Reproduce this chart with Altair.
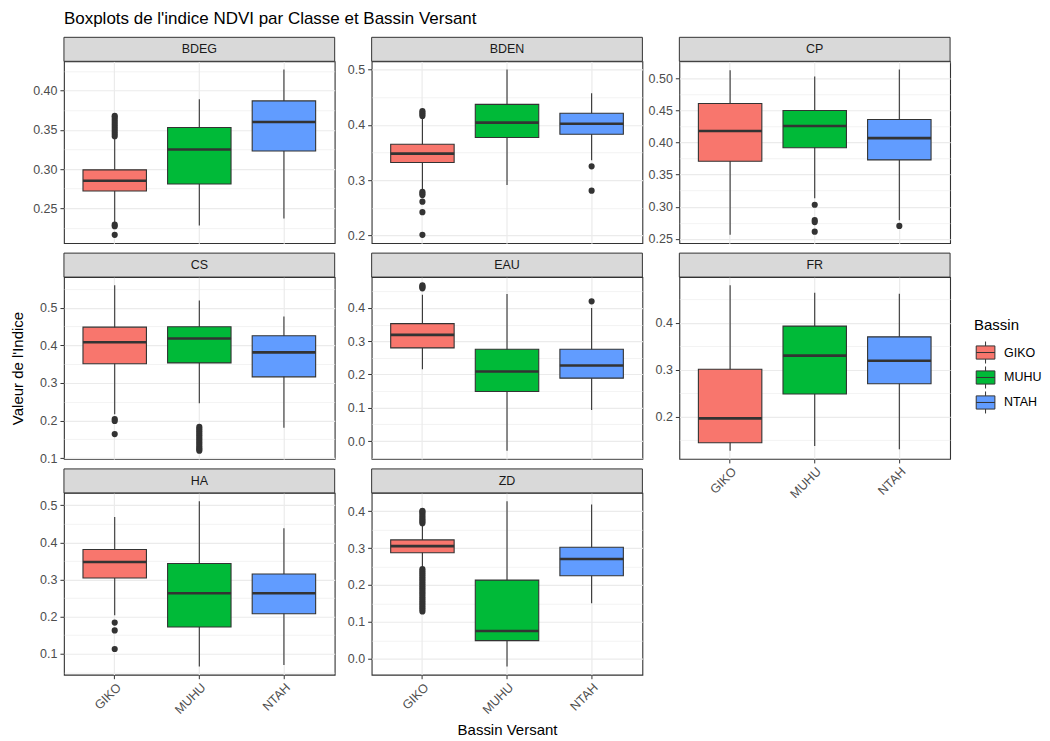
import altair as alt
import pandas as pd

# ---------------- data ----------------
classes = ["BDEG", "BDEN", "CP", "CS", "EAU", "FR", "HA", "ZD"]
bassins = ["GIKO", "MUHU", "NTAH"]
colors = ["#F8766D", "#00BA38", "#619CFF"]

# statistics, ordered class by class, then GIKO, MUHU, NTAH
whisker_low = [0.232, 0.228, 0.237,
               0.283, 0.291, 0.336,
               0.256, 0.313, 0.279,
               0.217, 0.246, 0.181,
               0.216, -0.029, 0.093,
               0.127, 0.137, 0.130,
               0.204, 0.066, 0.070,
               0.246, -0.021, 0.150]
q1 = [0.272, 0.281, 0.323,
      0.332, 0.377, 0.383,
      0.371, 0.392, 0.373,
      0.351, 0.353, 0.316,
      0.280, 0.149, 0.189,
      0.144, 0.248, 0.270,
      0.304, 0.172, 0.208,
      0.287, 0.049, 0.225]
median = [0.285, 0.325, 0.360,
          0.348, 0.404, 0.402,
          0.418, 0.426, 0.407,
          0.408, 0.418, 0.381,
          0.319, 0.209, 0.227,
          0.196, 0.330, 0.319,
          0.347, 0.263, 0.263,
          0.305, 0.075, 0.270]
q3 = [0.299, 0.353, 0.387,
      0.365, 0.437, 0.421,
      0.461, 0.450, 0.436,
      0.448, 0.449, 0.425,
      0.353, 0.276, 0.276,
      0.301, 0.393, 0.370,
      0.381, 0.343, 0.315,
      0.322, 0.213, 0.302]
whisker_high = [0.340, 0.389, 0.427,
                0.414, 0.500, 0.457,
                0.513, 0.503, 0.514,
                0.559, 0.519, 0.476,
                0.440, 0.442, 0.400,
                0.480, 0.464, 0.462,
                0.468, 0.511, 0.438,
                0.364, 0.427, 0.418]

outliers = {
    ("BDEG", "GIKO"): [0.342, 0.345, 0.348, 0.351, 0.354, 0.357, 0.360, 0.363, 0.366, 0.368,
                       0.229, 0.227, 0.216],
    ("BDEN", "GIKO"): [0.416, 0.419, 0.422, 0.425, 0.279, 0.276, 0.273, 0.261, 0.242, 0.201],
    ("BDEN", "NTAH"): [0.325, 0.281],
    ("CP", "MUHU"): [0.303, 0.279, 0.276, 0.261],
    ("CP", "NTAH"): [0.270],
    ("CS", "GIKO"): [0.204, 0.199, 0.164],
    ("CS", "MUHU"): [0.183, 0.178, 0.173, 0.168, 0.163, 0.158, 0.153, 0.148, 0.143, 0.138,
                     0.133, 0.128, 0.124, 0.120],
    ("EAU", "GIKO"): [0.459, 0.462, 0.465, 0.468],
    ("EAU", "NTAH"): [0.420],
    ("HA", "GIKO"): [0.184, 0.163, 0.113],
    ("ZD", "GIKO"): [0.367, 0.371, 0.375, 0.379, 0.384, 0.389, 0.394, 0.398, 0.401,
                     0.243, 0.238, 0.233, 0.228, 0.223, 0.218, 0.213, 0.208, 0.203, 0.198,
                     0.193, 0.188, 0.183, 0.178, 0.173, 0.168, 0.163, 0.158, 0.153, 0.148,
                     0.143, 0.138, 0.133, 0.128],
}

# y tick labels per panel
y_breaks = {
    "BDEG": [0.25, 0.30, 0.35, 0.40],
    "BDEN": [0.2, 0.3, 0.4, 0.5],
    "CP": [0.25, 0.30, 0.35, 0.40, 0.45, 0.50],
    "CS": [0.1, 0.2, 0.3, 0.4, 0.5],
    "EAU": [0.0, 0.1, 0.2, 0.3, 0.4],
    "FR": [0.2, 0.3, 0.4],
    "HA": [0.1, 0.2, 0.3, 0.4, 0.5],
    "ZD": [0.0, 0.1, 0.2, 0.3, 0.4],
}
y_format = {"BDEG": ".2f", "CP": ".2f"}

# ---------------- tables ----------------
stats = pd.DataFrame({
    "Classe": [c for c in classes for _ in bassins],
    "Bassin": [b for _ in classes for b in bassins],
    "lo": whisker_low, "q1": q1, "med": median, "q3": q3, "hi": whisker_high,
})
out_rows = [(c, b, v) for (c, b), vals in outliers.items() for v in vals]
outl = pd.DataFrame(out_rows, columns=["Classe", "Bassin", "value"])

# ---------------- styling ----------------
W, H = 271, 182
STRIP = 24
FONT = "Liberation Sans"
DARK = "#333333"
GRID = "#EBEBEB"
BW = W / 3.2 * 0.75
legend_symbol = ("M-0.85,-0.6H0.85V0.6H-0.85Z M-0.85,0H0.85 "
                 "M0,-0.6V-1 M0,0.6V1")


def panel(cls):
    d = stats[stats.Classe == cls]
    o = outl[outl.Classe == cls]
    vals = list(d.lo) + list(d.hi) + list(o.value)
    lo, hi = min(vals), max(vals)
    r = hi - lo
    dom = [lo - 0.05 * r, hi + 0.05 * r]
    majors = y_breaks[cls]
    step = majors[1] - majors[0]
    minors = [round(m - step / 2, 4) for m in majors] + [round(majors[-1] + step / 2, 4)]
    minors = [m for m in minors if dom[0] <= m <= dom[1]]
    fmt = y_format.get(cls, ".1f")
    test = "indexof([" + ",".join(repr(float(m)) for m in majors) + "], datum.value) >= 0"

    yaxis = alt.Axis(
        values=[float(m) for m in majors] + minors,
        labelExpr=f"{test} ? format(datum.value, '{fmt}') : ''",
        title="Valeur de l'Indice" if cls == "CS" else None,
        titleFont=FONT, titleFontSize=15, titleFontWeight="normal", titleColor="black",
        titlePadding=14,
        grid=True, gridColor=GRID,
        gridWidth={"condition": {"test": test, "value": 1.2}, "value": 0.6},
        tickColor=DARK, tickSize=4,
        tickOpacity={"condition": {"test": test, "value": 1}, "value": 0},
        domain=False, labelColor="#4D4D4D", labelFont=FONT, labelFontSize=12.5,
        labelPadding=3, labelOverlap=False,
    )
    bottom = cls in ("HA", "ZD", "FR")
    if bottom:
        xaxis = alt.Axis(
            labelAngle=-45, labelAlign="right", labelBaseline="top",
            labelColor="#4D4D4D", labelFont=FONT, labelFontSize=12.5, labelPadding=2,
            tickColor=DARK, tickSize=4, domain=False, bandPosition=0.5,
            grid=True, gridColor=GRID, gridWidth=1.2,
            title="Bassin Versant" if cls == "ZD" else None,
            titleFont=FONT, titleFontSize=15, titleFontWeight="normal", titleColor="black",
            titlePadding=6,
        )
    else:
        xaxis = alt.Axis(labels=False, ticks=False, domain=False, title=None,
                         grid=True, gridColor=GRID, gridWidth=1.2, bandPosition=0.5)

    xenc = alt.X("Bassin:N", scale=alt.Scale(domain=bassins, paddingInner=0.25,
                                             paddingOuter=0.225), axis=xaxis)
    yscale = alt.Scale(domain=dom, nice=False, zero=False)

    base = alt.Chart(d)
    whisk = base.mark_rule(color=DARK, strokeWidth=1.1).encode(
        x=xenc, y=alt.Y("lo:Q", scale=yscale, axis=yaxis), y2="hi:Q")
    box = base.mark_bar(stroke=DARK, strokeWidth=1.1).encode(
        x=xenc, y=alt.Y("q1:Q", scale=yscale, axis=yaxis), y2="q3:Q",
        fill=alt.Fill("Bassin:N", scale=alt.Scale(domain=bassins, range=colors),
                      legend=alt.Legend(
                          title="Bassin", orient="none", legendX=911, legendY=257,
                          symbolType=legend_symbol, symbolSize=484,
                          symbolStrokeColor=DARK, symbolStrokeWidth=1,
                          titleFont=FONT, titleFontSize=15, titleFontWeight="normal",
                          titleColor="black", titlePadding=8,
                          labelFont=FONT, labelFontSize=12.5, labelColor="black",
                          rowPadding=-4, labelOffset=7, padding=0)))
    med = base.mark_tick(color=DARK, size=BW, thickness=2.6, opacity=1).encode(
        x=xenc, y=alt.Y("med:Q", scale=yscale, axis=yaxis))
    layers = [whisk, box, med]
    if len(o):
        pts = alt.Chart(o).mark_circle(color=DARK, size=38, opacity=1).encode(
            x=xenc, y=alt.Y("value:Q", scale=yscale, axis=yaxis))
        layers.append(pts)

    sdf = pd.DataFrame({"Classe": [cls]})
    strip = alt.Chart(sdf).mark_rect(fill="#D9D9D9", stroke=DARK, strokeWidth=1).encode(
        x=alt.value(0), x2=alt.value(W), y=alt.value(-STRIP), y2=alt.value(0))
    stext = alt.Chart(sdf).mark_text(font=FONT, fontSize=12.5, color="#1A1A1A",
                                     baseline="middle", align="center").encode(
        x=alt.value(W / 2), y=alt.value(-STRIP / 2), text="Classe:N")
    return alt.layer(*layers, strip, stext).properties(width=W, height=H)


panels = [panel(c) for c in classes]

chart = alt.concat(
    *panels, columns=3, spacing={"row": 34, "column": 37}, bounds="flush"
).resolve_scale(
    x="independent", y="independent", fill="shared"
).properties(
    title=alt.TitleParams(
        "Boxplots de l'indice NDVI par Classe et Bassin Versant",
        anchor="start", frame="group", font=FONT, fontSize=17, fontWeight="normal",
        color="black", offset=8),
    padding={"left": 2, "right": 0, "top": 1, "bottom": 0},
).configure_view(stroke=DARK, strokeWidth=1.1)

chart.save("out.html", embed_options={"renderer": "svg", "actions": False})
